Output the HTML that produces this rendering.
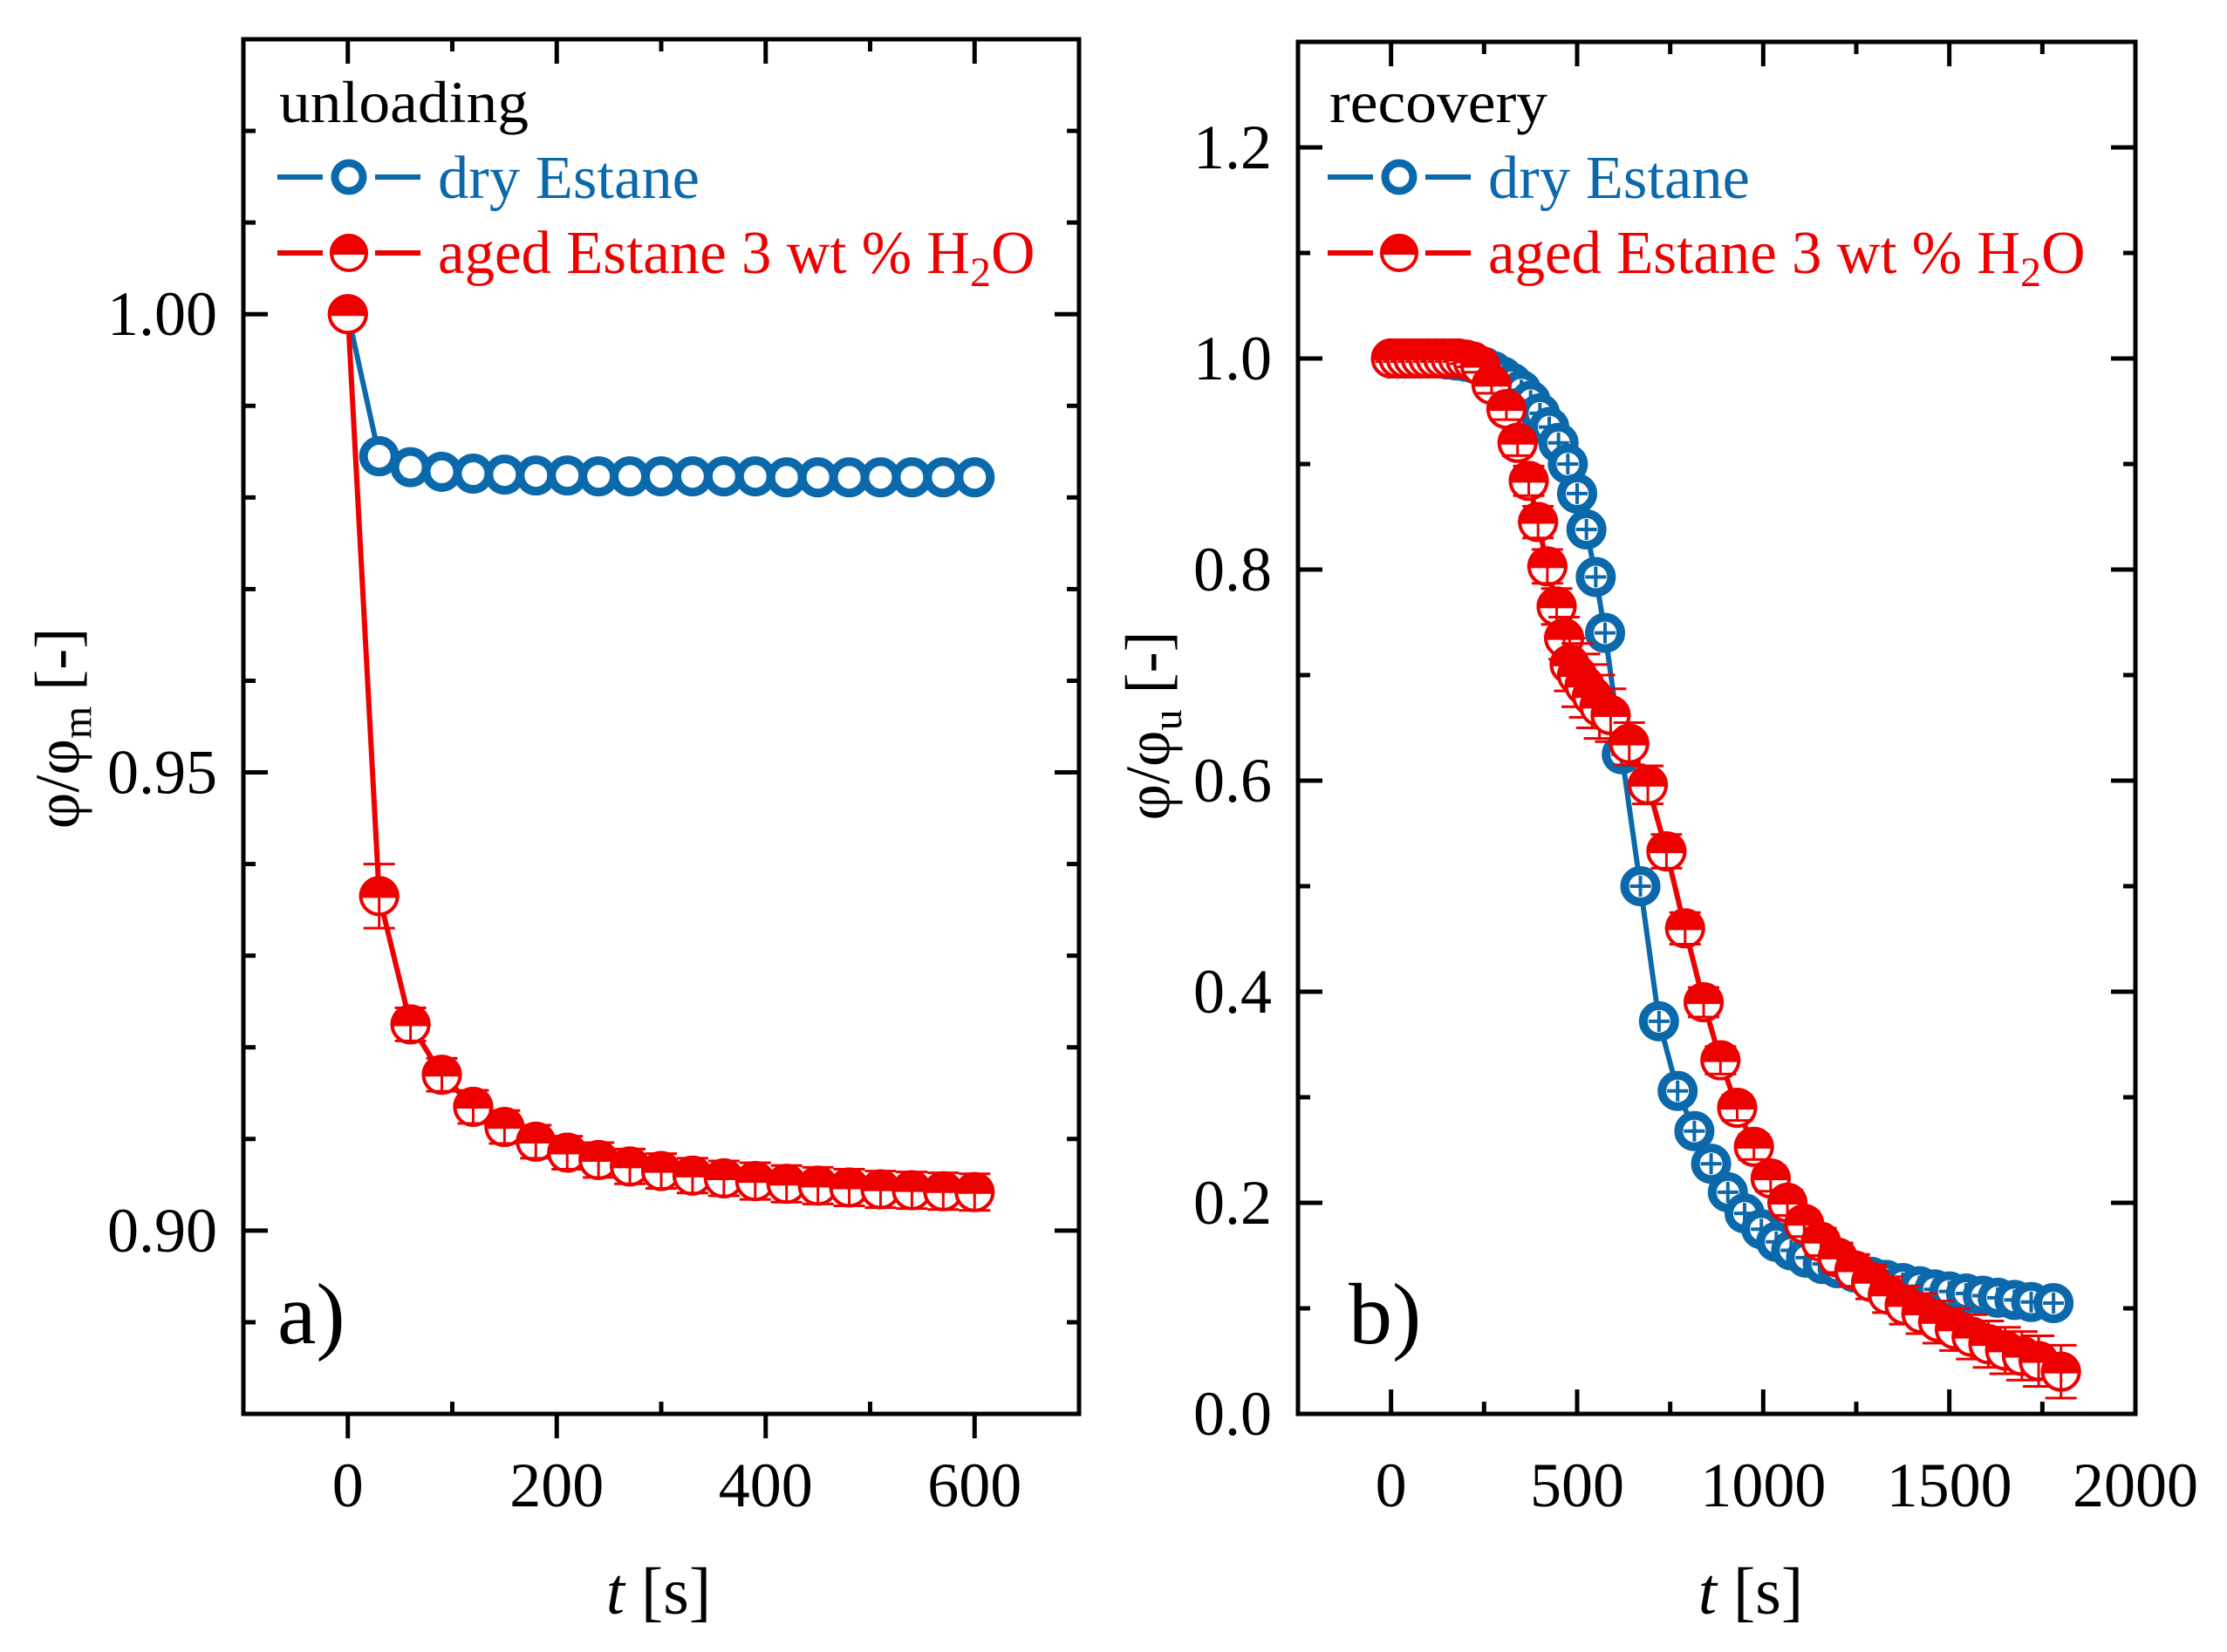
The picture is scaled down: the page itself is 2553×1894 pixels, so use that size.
<!DOCTYPE html>
<html><head><meta charset="utf-8"><style>
html,body{margin:0;padding:0;background:#fff;}
svg{display:block;font-family:"Liberation Serif",serif;}
</style></head><body>
<svg id="fig" width="2553" height="1894" viewBox="0 0 2553 1894" xmlns="http://www.w3.org/2000/svg">
<rect x="0" y="0" width="2553" height="1894" fill="#fff"/>
<g id="pa"></g>
<g id="pb"></g>
</svg>
<script>
// ---- Panel a data ----
const aTime = [0,30,60,90,120,150,180,210,240,270,300,330,360,390,420,450,480,510,540,570,600];
const aDry = [1.0,0.9845,0.9833,0.9828,0.9826,0.9825,0.9824,0.9824,0.9823,0.9823,0.9823,0.9823,0.9823,0.9823,0.9822,0.9822,0.9822,0.9822,0.9822,0.9822,0.9822];
const aAged = [1.0,0.9365,0.9225,0.917,0.9135,0.9113,0.9097,0.9085,0.9077,0.907,0.9065,0.906,0.9057,0.9054,0.9051,0.9049,0.9047,0.9045,0.9044,0.9043,0.9042];
const aAgedErr = [0,0.0035,0.0018,0.0018,0.0018,0.0018,0.0018,0.0018,0.0019,0.0019,0.0019,0.0019,0.0019,0.002,0.002,0.002,0.002,0.002,0.002,0.002,0.002];
const aYTicks = ["0.90","0.95","1.00"];
const aXTicks = ["0","200","400","600"];
// ---- Panel b data ----
const bDryTime = [0,25,50,75,100,125,150,175,200,225,250,275,300,325,350,375,400,425,450,475,500,525,550,575,620,670,720,770,815,860,905,950,995,1035,1075,1115,1160,1200,1245,1290,1330,1375,1420,1460,1500,1545,1590,1630,1675,1720,1780];
const bDry = [1.0,1.0,1.0,1.0,1.0,1.0,0.999,0.998,0.997,0.995,0.992,0.988,0.983,0.977,0.97,0.96,0.948,0.935,0.92,0.90,0.872,0.838,0.793,0.74,0.625,0.50,0.372,0.306,0.268,0.237,0.21,0.19,0.175,0.163,0.155,0.148,0.142,0.138,0.134,0.13,0.127,0.124,0.121,0.118,0.116,0.114,0.112,0.11,0.108,0.106,0.105];
const bAgedTime = [0,20,40,60,80,100,120,140,160,180,200,220,240,270,310,340,370,395,420,445,465,480,500,520,540,560,590,640,690,740,790,840,885,930,975,1020,1065,1110,1155,1200,1245,1290,1335,1380,1425,1470,1515,1560,1605,1650,1695,1740,1800];
const bAged = [1.0,1.0,1.0,1.0,1.0,1.0,1.0,1.0,1.0,1.0,0.999,0.997,0.993,0.975,0.952,0.92,0.884,0.845,0.803,0.765,0.735,0.71,0.70,0.69,0.68,0.67,0.662,0.635,0.596,0.533,0.46,0.39,0.335,0.29,0.253,0.223,0.2,0.18,0.163,0.148,0.136,0.125,0.113,0.103,0.095,0.087,0.08,0.073,0.066,0.06,0.055,0.05,0.04];
const bAgedErr = [0.003,0.003,0.003,0.003,0.003,0.003,0.003,0.003,0.003,0.003,0.004,0.005,0.006,0.008,0.01,0.012,0.014,0.015,0.016,0.017,0.02,0.025,0.03,0.03,0.03,0.03,0.025,0.02,0.018,0.016,0.015,0.014,0.013,0.012,0.012,0.012,0.012,0.012,0.013,0.014,0.015,0.016,0.017,0.018,0.019,0.02,0.02,0.021,0.022,0.022,0.023,0.024,0.025];
const bYTicks = ["0.0","0.2","0.4","0.6","0.8","1.0","1.2"];
const bXTicks = ["0","500","1000","1500","2000"];

const NS = "http://www.w3.org/2000/svg";
const BLUE = "#0b69ab", RED = "#ee0000";
function mk(tag, attrs, parent, text){
  const e = document.createElementNS(NS, tag);
  for (const k in attrs) e.setAttribute(k, attrs[k]);
  if (text !== undefined) e.textContent = text;
  parent.appendChild(e); return e;
}

function panel(g, cfg){
  const {L,R,T,B,xmin,xmax,ymin,ymax} = cfg;
  const sx = v => L + (v - xmin) / (xmax - xmin) * (R - L);
  const sy = v => B - (v - ymin) / (ymax - ymin) * (B - T);
  const tk = mk('g', {stroke:'#000','stroke-width':5}, g);
  
  
  for (let v = cfg.xMinorStart; v <= xmax + 1e-9; v += cfg.xMinor){
    const major = Math.abs((v / cfg.xMajor) - Math.round(v / cfg.xMajor)) < 1e-6;
    const x = sx(v);
    if (x < L + 3 || x > R - 3) continue;
    const len = major ? 28 : 14;
    mk('line', {x1:x, y1:T, x2:x, y2:T + len}, tk);
    if (major && cfg.bottomOut) mk('line', {x1:x, y1:B, x2:x, y2:B + len}, tk);
    else mk('line', {x1:x, y1:B, x2:x, y2:B - len}, tk);
  }
  for (let v = cfg.yMinorStart; v <= ymax + 1e-9; v += cfg.yMinor){
    const major = Math.abs((v / cfg.yMajor) - Math.round(v / cfg.yMajor)) < 1e-6;
    const y = sy(v);
    if (y < T + 3 || y > B - 3) continue;
    const len = major ? 28 : 14;
    mk('line', {x1:L, y1:y, x2:L + len, y2:y}, tk);
    mk('line', {x1:R, y1:y, x2:R - len, y2:y}, tk);
  }
  const frame = mk('rect', {x:L, y:T, width:R-L, height:B-T, fill:'none', stroke:'#000', 'stroke-width':5}, g);
  
  
  cfg.yTicks.forEach(s => {
    const t = mk('text', {x:L - 30, y:sy(parseFloat(s)) + 24, 'font-size':72, 'text-anchor':'end'}, g, s);
    
    
  });
  cfg.xTicks.forEach(s => {
    const t = mk('text', {x:sx(parseFloat(s)), y:1727, 'font-size':72, 'text-anchor':'middle'}, g, s);
    
    
  });
  const xt = mk('text', {x:cfg.xTitleX, y:1850, 'font-size':76, 'text-anchor':'middle'}, g);
  
  
  mk('tspan', {'font-style':'italic'}, xt, 't');
  mk('tspan', {}, xt, ' [s]');
  const yt = mk('text', {transform:`translate(${cfg.yTitleX},${cfg.yTitleY}) rotate(-90)`, 'font-size':72, 'text-anchor':'middle'}, g);
  
  
  mk('tspan', {}, yt, 'φ/φ');
  mk('tspan', {'font-size':48, dy:14}, yt, cfg.ySub);
  mk('tspan', {dy:-14}, yt, ' [-]');
  const pl = mk('text', {x:cfg.labX, y:1540, 'font-size':100}, g, cfg.label);
  
  
  const lt = mk('text', {x:cfg.legX, y:140, 'font-size':68, textLength:cfg.titleLen, lengthAdjust:'spacingAndGlyphs'}, g, cfg.title);
  
  
  const lx = cfg.legX, mx = lx + 80;
  const lb = mk('g', {}, g);
  
  
  mk('line', {x1:lx-2, y1:203, x2:mx-30, y2:203, stroke:BLUE, 'stroke-width':6}, lb);
  mk('line', {x1:mx+30, y1:203, x2:mx+82, y2:203, stroke:BLUE, 'stroke-width':6}, lb);
  mk('circle', {cx:mx, cy:203, r:16, fill:'#fff', stroke:BLUE, 'stroke-width':9}, lb);
  mk('text', {x:mx+102, y:227, 'font-size':70, fill:BLUE, textLength:300, lengthAdjust:'spacingAndGlyphs'}, lb, 'dry Estane');
  const lr = mk('g', {}, g);
  
  
  mk('line', {x1:lx-2, y1:290, x2:mx-30, y2:290, stroke:RED, 'stroke-width':6}, lr);
  mk('line', {x1:mx+30, y1:290, x2:mx+82, y2:290, stroke:RED, 'stroke-width':6}, lr);
  halfMarker(lr, mx, 290, 20);
  const at = mk('text', {x:mx+102, y:313, 'font-size':70, fill:RED}, lr);
  mk('tspan', {textLength:610, lengthAdjust:'spacingAndGlyphs'}, at, 'aged Estane 3 wt % H');
  mk('tspan', {'font-size':48, dy:15}, at, '2');
  mk('tspan', {dy:-15}, at, 'O');
  return {sx, sy};
}

function halfMarker(parent, cx, cy, r){
  mk('circle', {cx, cy, r, fill:'#fff', stroke:RED, 'stroke-width':4}, parent);
  mk('path', {d:`M${cx-r},${cy} A${r},${r} 0 0 1 ${cx+r},${cy} Z`, fill:RED, stroke:RED, 'stroke-width':4}, parent);
}

function series(g, s, xs, ys, errs, color, kind, name, withDryCross){
  const sg = mk('g', {}, g);
  
  
  const pts = xs.map((t,i) => s.sx(t).toFixed(1) + ',' + s.sy(ys[i]).toFixed(1)).join(' ');
  const ln = mk('polyline', {points:pts, fill:'none', stroke:color, 'stroke-width':6}, sg);
  
  
  xs.forEach((t,i) => {
    const x = s.sx(t), y = s.sy(ys[i]);
    const m = mk('g', {}, sg);
    
    
    if (kind === 'open'){
      mk('circle', {cx:x, cy:y, r:18, fill:'#fff', stroke:color, 'stroke-width':10}, m);
      if (withDryCross){
        mk('line', {x1:x-12, y1:y, x2:x+12, y2:y, stroke:color, 'stroke-width':4}, m);
        mk('line', {x1:x, y1:y-12, x2:x, y2:y+12, stroke:color, 'stroke-width':4}, m);
      }
    } else {
      halfMarker(m, x, y, 21);
      if (errs && errs[i] > 0){
        const y1 = s.sy(ys[i] + errs[i]), y2 = s.sy(ys[i] - errs[i]);
        mk('line', {x1:x, y1:y1, x2:x, y2:y2, stroke:color, 'stroke-width':3}, m);
        mk('line', {x1:x-18, y1:y1, x2:x+18, y2:y1, stroke:color, 'stroke-width':3}, m);
        mk('line', {x1:x-18, y1:y2, x2:x+18, y2:y2, stroke:color, 'stroke-width':3}, m);
      }
    }
  });
}

const pa = document.getElementById('pa');
const sa = panel(pa, {L:279,R:1237,T:45,B:1621,xmin:-100,xmax:700,ymin:0.88,ymax:1.03,
  xMajor:200,xMinor:100,xMinorStart:0,yMajor:0.05,yMinor:0.01,yMinorStart:0.88,bottomOut:true,
  yTicks:aYTicks,xTicks:aXTicks,xTitleX:755,yTitleX:90,yTitleY:835,ySub:'m',labX:318,label:'a)',
  legX:320,title:'unloading',titleLen:286});
series(pa, sa, aTime, aDry, null, BLUE, 'open', 'dry-estane-series', false);
series(pa, sa, aTime, aAged, aAgedErr, RED, 'half', 'aged-estane-series');

const pb = document.getElementById('pb');
const sb = panel(pb, {L:1488,R:2448,T:48,B:1621,xmin:-250,xmax:2000,ymin:0,ymax:1.3,
  xMajor:500,xMinor:250,xMinorStart:-250,yMajor:0.2,yMinor:0.1,yMinorStart:0,bottomOut:false,
  yTicks:bYTicks,xTicks:bXTicks,xTitleX:2007,yTitleX:1340,yTitleY:832,ySub:'u',labX:1546,label:'b)',
  legX:1524,title:'recovery',titleLen:250});
series(pb, sb, bDryTime, bDry, null, BLUE, 'open', 'dry-estane-series', true);
series(pb, sb, bAgedTime, bAged, bAgedErr, RED, 'half', 'aged-estane-series');
</script>
</body></html>
